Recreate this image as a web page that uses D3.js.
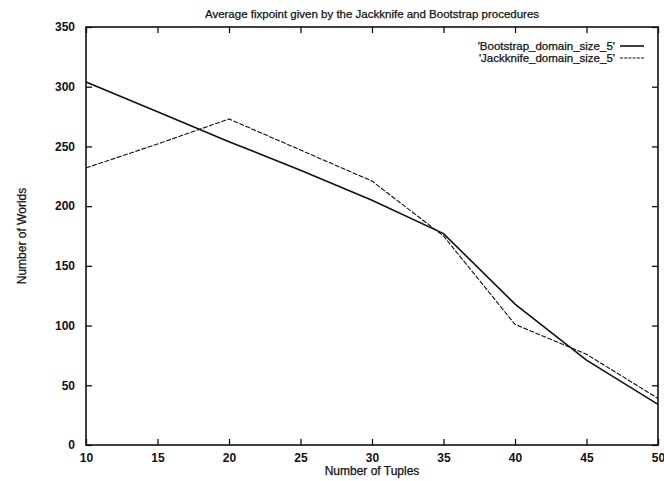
<!DOCTYPE html>
<html lang="en">
  <head>
    <script src="https://cdn.jsdelivr.net/npm/d3@7/dist/d3.min.js"></script>
    <style>
      body {
        margin: 0;
        background: #fff;
      }
      svg {
        font-family: 'Liberation Sans', Arial, sans-serif;
      }
      .tick text {
        font-size: 12px;
        font-weight: bold;
        fill: #111;
      }
      .label {
        fill: #111;
        stroke: #111;
        stroke-width: 0.25px;
      }
    </style>
  </head>
  <body>
    <svg></svg>
  </body>
  <script>

    // Chart data
    const tuples = [10, 15, 20, 25, 30, 35, 40, 45, 50];
    const bootstrap = [304, 279, 254, 230, 205, 177, 118, 71, 34];
    const jackknife = [232, 252, 273, 247, 221, 175, 101, 76, 39];
    const xTicks = [10, 15, 20, 25, 30, 35, 40, 45, 50];
    const yTicks = [0, 50, 100, 150, 200, 250, 300, 350];
    const seriesNames = ["'Bootstrap_domain_size_5'", "'Jackknife_domain_size_5'"];

    // Initialize svg
    const totalW = 664;
    const totalH = 481;
    const margin = { top: 27, right: 6, bottom: 36, left: 86 };
    const width = totalW - margin.left - margin.right;
    const height = totalH - margin.top - margin.bottom;

    const root = d3.select('svg')
        .attr('width', totalW)
        .attr('height', totalH);

    const svg = root.append('g')
        .attr('transform', 'translate(' + margin.left + ',' + margin.top + ')');

    const x = d3.scaleLinear().domain([10, 50]).range([0, width]);
    const y = d3.scaleLinear().domain([0, 350]).range([height, 0]);

    // Axes, gnuplot style: ticks pointing inward on all sides
    const tickLen = 6;
    svg.append('g')
        .attr('transform', 'translate(0,' + height + ')')
        .call(d3.axisBottom(x).tickValues(xTicks).tickSizeInner(-tickLen).tickSizeOuter(0).tickPadding(8))
        .call(g => g.select('.domain').remove());
    svg.append('g')
        .call(d3.axisTop(x).tickValues(xTicks).tickSizeInner(-tickLen).tickSizeOuter(0).tickFormat(''))
        .call(g => g.select('.domain').remove());
    svg.append('g')
        .call(d3.axisLeft(y).tickValues(yTicks).tickSizeInner(-tickLen).tickSizeOuter(0).tickPadding(11))
        .call(g => g.select('.domain').remove());
    svg.append('g')
        .attr('transform', 'translate(' + width + ',0)')
        .call(d3.axisRight(y).tickValues(yTicks).tickSizeInner(-tickLen).tickSizeOuter(0).tickFormat(''))
        .call(g => g.select('.domain').remove());

    svg.selectAll('.tick line')
        .attr('stroke', '#111')
        .attr('stroke-width', 1.3);

    // Frame
    svg.append('rect')
        .attr('width', width)
        .attr('height', height)
        .attr('fill', 'none')
        .attr('stroke', '#111')
        .attr('stroke-width', 1.6);

    // Lines
    const line = d3.line()
        .x((d, i) => x(tuples[i]))
        .y(d => y(d));

    svg.append('path')
        .datum(bootstrap)
        .attr('fill', 'none')
        .attr('stroke', '#111')
        .attr('stroke-width', 1.6)
        .attr('d', line);

    svg.append('path')
        .datum(jackknife)
        .attr('fill', 'none')
        .attr('stroke', '#111')
        .attr('stroke-width', 1.1)
        .attr('stroke-dasharray', '5,1.5')
        .attr('d', line);

    // Legend
    const legend = svg.append('g')
        .attr('transform', 'translate(' + (width - 43) + ',19)');
    seriesNames.forEach((name, i) => {
      const row = legend.append('g').attr('transform', 'translate(0,' + (i * 12) + ')');
      row.append('text')
          .attr('class', 'label')
          .attr('x', 0)
          .attr('dy', '0.35em')
          .attr('text-anchor', 'end')
          .attr('font-size', 11.5)
          .text(name);
      row.append('line')
          .attr('x1', 5)
          .attr('x2', 29)
          .attr('stroke', '#111')
          .attr('stroke-width', i === 0 ? 1.6 : 1.1)
          .attr('stroke-dasharray', i === 0 ? null : '3,1.2');
    });

    // Titles
    root.append('text')
        .attr('class', 'label')
        .attr('x', margin.left + width / 2)
        .attr('y', 18)
        .attr('text-anchor', 'middle')
        .attr('font-size', 11.5)
        .text('Average fixpoint given by the Jackknife and Bootstrap procedures');

    root.append('text')
        .attr('class', 'label')
        .attr('x', margin.left + width / 2)
        .attr('y', totalH - 6)
        .attr('text-anchor', 'middle')
        .attr('font-size', 12)
        .text('Number of Tuples');

    root.append('text')
        .attr('class', 'label')
        .attr('transform', 'translate(26,' + (margin.top + height / 2) + ') rotate(-90)')
        .attr('text-anchor', 'middle')
        .attr('font-size', 12)
        .text('Number of Worlds');
  </script>
</html>
